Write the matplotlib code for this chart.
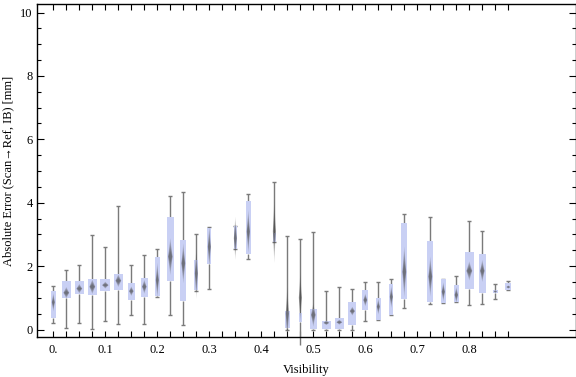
import matplotlib
matplotlib.use("Agg")
import matplotlib.pyplot as plt
from matplotlib.patches import Rectangle, Polygon
from matplotlib.ticker import MultipleLocator, FixedLocator

# ---- data ----
visibility = [0.0, 0.025, 0.05, 0.075, 0.1, 0.125, 0.15, 0.175, 0.2, 0.225, 0.25, 0.275,
              0.3, 0.35, 0.375, 0.425, 0.45, 0.475, 0.5, 0.525, 0.55, 0.575, 0.6, 0.625,
              0.65, 0.675, 0.725, 0.75, 0.775, 0.8, 0.825, 0.85, 0.875]
whisker_lo = [0.20, 0.05, 0.20, 0.01, 0.26, 0.16, 0.45, 0.16, 1.03, 0.45, 0.13, 1.22,
              1.27, 2.53, 2.21, 2.75, 0.00, -0.50, 0.00, 0.00, 0.00, 0.00, 0.26, 0.31,
              0.47, 0.67, 0.79, 0.84, 0.86, 0.76, 0.79, 0.95, 1.24]
quart_lo = [0.37, 1.00, 1.13, 1.10, 1.21, 1.25, 0.94, 1.03, 1.06, 1.54, 0.91, 1.25,
            2.08, 2.53, 2.39, 2.75, 0.06, 0.24, 0.03, 0.03, 0.03, 0.15, 0.63, 0.31,
            0.47, 0.97, 0.88, 0.84, 0.88, 1.28, 1.16, 1.16, 1.26]
center = [0.86, 1.16, 1.29, 1.35, 1.40, 1.54, 1.21, 1.35, 1.56, 2.30, 2.09, 1.77,
          2.61, 2.88, 3.09, 3.10, 0.50, 1.00, 0.46, 0.21, 0.23, 0.58, 0.93, 0.72,
          1.03, 1.82, 1.67, 1.19, 1.09, 1.85, 1.85, 1.20, 1.34]
quart_hi = [1.21, 1.53, 1.53, 1.59, 1.59, 1.74, 1.47, 1.62, 2.29, 3.55, 2.82, 2.19,
            3.19, 3.26, 4.05, 3.04, 0.58, 0.52, 0.65, 0.27, 0.37, 0.87, 1.25, 0.99,
            1.44, 3.36, 2.79, 1.59, 1.40, 2.44, 2.38, 1.26, 1.47]
whisker_hi = [1.36, 1.87, 2.02, 2.98, 2.59, 3.90, 2.02, 2.34, 2.53, 4.20, 4.33, 3.00,
              3.22, 3.26, 4.26, 4.64, 2.94, 2.85, 3.07, 1.20, 1.33, 1.29, 1.49, 1.49,
              1.58, 3.63, 3.55, 1.59, 1.68, 3.41, 3.10, 1.43, 1.53]
spread = [0.29, 0.18, 0.15, 0.23, 0.11, 0.20, 0.15, 0.22, 0.55, 0.58, 0.63, 0.80,
          0.65, 0.68, 0.68, 1.00, 0.85, 0.80, 0.37, 0.07, 0.08, 0.14, 0.20, 0.25,
          0.35, 0.80, 0.63, 0.30, 0.25, 0.30, 0.35, 0.05, 0.05]
# relative box widths (sample-size dependent)
rel_width = [4.7, 9, 9, 9, 10, 9, 7, 7, 4.7, 7, 6, 3.7, 3.7, 3, 5, 3, 5, 3, 7, 9, 9, 8,
             6, 4.7, 4, 6, 6, 5, 5.3, 9, 7, 5, 6]

x_tick_pos = [0.0, 0.1, 0.2, 0.3, 0.4, 0.5, 0.6, 0.7, 0.8]
x_tick_labels = ["0.", "0.1", "0.2", "0.3", "0.4", "0.5", "0.6", "0.7", "0.8"]
x_minor_pos = [0.025 * k for k in range(36)]
y_ticks = [0, 2, 4, 6, 8, 10]

# ---- styling ----
plt.rcParams['font.family'] = ['Liberation Serif', 'DejaVu Serif']
BOX_COLOR = '#c9d0f4'
WHISK_COLOR = '#7a7a7a'
PX = 1.0 / 520.0  # data units per pixel horizontally

fig = plt.figure(figsize=(5.76, 3.77), dpi=100)
ax = fig.add_axes([0.0637, 0.1069, 0.9358, 0.8817])
ax.set_xlim(-0.032, 1.0046)
ax.set_ylim(-0.227, 10.26)

for i, x in enumerate(visibility):
    bw = rel_width[i] * PX
    cap = 2.0 * PX
    # whiskers
    ax.plot([x, x], [whisker_lo[i], quart_lo[i]], color=WHISK_COLOR, lw=1.0, zorder=2,
            solid_capstyle='butt', clip_on=False)
    ax.plot([x, x], [quart_hi[i], whisker_hi[i]], color=WHISK_COLOR, lw=1.0, zorder=2,
            solid_capstyle='butt', clip_on=False)
    for yv in (whisker_lo[i], whisker_hi[i]):
        if yv >= 0:
            ax.plot([x - cap, x + cap], [yv, yv], color=WHISK_COLOR, lw=1.0, zorder=2,
                    solid_capstyle='butt')
    # box
    ax.add_patch(Rectangle((x - bw / 2, quart_lo[i]), bw, quart_hi[i] - quart_lo[i],
                           facecolor=BOX_COLOR, edgecolor='none', zorder=3))
    # fuzzy diamond marker
    dw = max(0.32 * bw, 1.5 * PX)
    for k in (1.0, 0.8, 0.62, 0.45, 0.3):
        h = spread[i] * k
        w = dw * min(1.0, 0.6 + 0.5 * k)
        ax.add_patch(Polygon([(x - w, center[i]), (x, center[i] + h),
                              (x + w, center[i]), (x, center[i] - h)],
                             closed=True, facecolor='#4a4a4a', edgecolor='none',
                             alpha=0.22, zorder=4, clip_on=False))

# ---- ticks ----
ax.xaxis.set_major_locator(FixedLocator(x_tick_pos))
ax.set_xticklabels(x_tick_labels)
ax.xaxis.set_minor_locator(FixedLocator(x_minor_pos))
ax.yaxis.set_major_locator(FixedLocator(y_ticks))
ax.yaxis.set_minor_locator(MultipleLocator(0.5))
ax.tick_params(axis='x', which='both', direction='in', top=True, length=4, width=0.8,
               labelsize=9, pad=5)
ax.tick_params(axis='y', which='major', direction='in', right=True, length=5, width=0.8,
               labelsize=9, pad=3)
ax.tick_params(axis='y', which='minor', direction='in', right=True, length=3, width=0.8)
for s in ax.spines.values():
    s.set_linewidth(1.0)

ax.set_xlabel("Visibility", fontsize=9, labelpad=6)
ax.set_ylabel("Absolute Error (Scan\u2192Ref, IB) [mm]", fontsize=9, labelpad=4)

fig.savefig("out.png", dpi=100)
